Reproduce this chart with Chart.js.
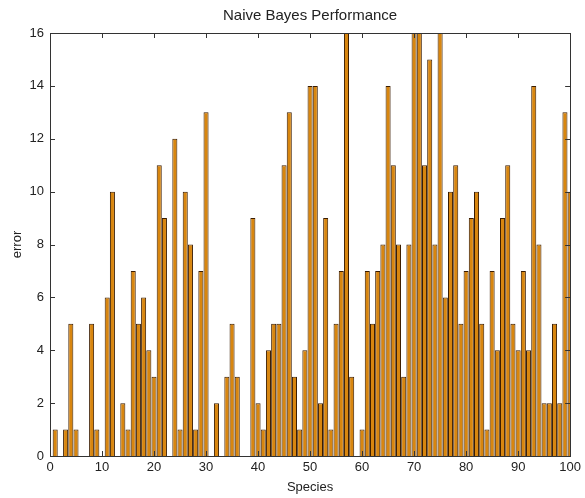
<!DOCTYPE html>
<html>
<head>
<meta charset="utf-8">
<script src="https://cdn.jsdelivr.net/npm/chart.js@4"></script>
<style>
  html, body { margin: 0; padding: 0; background: #fff; }
  #wrap { width: 585px; height: 498px; }
</style>
</head>
<body>
<div id="wrap"><canvas id="chart"></canvas></div>
<script>
// error per species, species 1..100
const errors = [
  1, 0, 1, 5, 1, 0, 0, 5, 1, 0,
  6, 10, 0, 2, 1, 7, 5, 6, 4, 3,
  11, 9, 0, 12, 1, 10, 8, 1, 7, 13,
  0, 2, 0, 3, 5, 3, 0, 0, 9, 2,
  1, 4, 5, 5, 11, 13, 3, 1, 4, 14,
  14, 2, 9, 1, 5, 7, 16, 3, 0, 1,
  7, 5, 7, 8, 14, 11, 8, 3, 8, 16,
  16, 11, 15, 8, 16, 6, 10, 11, 5, 7,
  9, 10, 5, 1, 7, 4, 9, 11, 5, 4,
  7, 4, 14, 8, 2, 2, 5, 2, 13, 10
];
const xTicks = [0, 10, 20, 30, 40, 50, 60, 70, 80, 90, 100];
const yTicks = [0, 2, 4, 6, 8, 10, 12, 14, 16];

const chartTitle = 'Naive Bayes Performance';
const xLabel = 'Species';
const yLabel = 'error';

const fontFamily = '"Liberation Sans", Arial, sans-serif';
const textColor = '#222';

// matlab style box, inward ticks and title over the plot area
const boxPlugin = {
  id: 'box',
  afterDatasetsDraw(chart) {
    const { ctx, chartArea: a, scales } = chart;
    ctx.save();
    ctx.strokeStyle = '#333';
    ctx.lineWidth = 1;
    ctx.beginPath();
    xTicks.forEach(t => {
      const px = Math.round(scales.x.getPixelForValue(t)) + 0.5;
      ctx.moveTo(px, a.bottom); ctx.lineTo(px, a.bottom - 5);
      ctx.moveTo(px, a.top); ctx.lineTo(px, a.top + 5);
    });
    yTicks.forEach(t => {
      const py = Math.round(scales.y.getPixelForValue(t)) + 0.5;
      ctx.moveTo(a.left, py); ctx.lineTo(a.left + 5, py);
      ctx.moveTo(a.right, py); ctx.lineTo(a.right - 5, py);
    });
    ctx.stroke();
    ctx.strokeRect(Math.round(a.left) + 0.5, Math.round(a.top) + 0.5,
      Math.round(a.right - a.left), Math.round(a.bottom - a.top));

    ctx.fillStyle = textColor;
    ctx.font = '15px ' + fontFamily;
    ctx.textAlign = 'center';
    ctx.textBaseline = 'middle';
    ctx.fillText(chartTitle, (a.left + a.right) / 2, 16);
    ctx.restore();
  }
};

new Chart(document.getElementById('chart'), {
  type: 'bar',
  data: {
    datasets: [{
      label: 'error',
      data: errors.map((v, i) => ({ x: i + 1, y: v })),
      backgroundColor: '#d8860f',
      borderColor: '#3a1c00',
      borderWidth: 1,
      barPercentage: 1,
      categoryPercentage: 0.97
    }]
  },
  options: {
    responsive: true,
    maintainAspectRatio: false,
    animation: false,
    layout: { padding: { left: 0, right: 13, top: 33, bottom: 0 } },
    plugins: {
      legend: { display: false },
      tooltip: { enabled: false }
    },
    scales: {
      x: {
        type: 'linear',
        min: 0,
        max: 100,
        offset: false,
        afterFit: s => { s.height = 42; },
        afterBuildTicks: s => { s.ticks = xTicks.map(v => ({ value: v })); },
        grid: { display: false, drawTicks: false },
        border: { display: false },
        ticks: { color: textColor, padding: 4, maxRotation: 0, font: { family: fontFamily, size: 13 } },
        title: { display: true, text: xLabel, color: textColor, padding: { top: 0, bottom: 3 }, font: { family: fontFamily, size: 13 } }
      },
      y: {
        min: 0,
        max: 16,
        afterFit: s => { s.width = 50; },
        afterBuildTicks: s => { s.ticks = yTicks.map(v => ({ value: v })); },
        grid: { display: false, drawTicks: false },
        border: { display: false },
        ticks: { color: textColor, padding: 6, font: { family: fontFamily, size: 13 } },
        title: { display: true, text: yLabel, color: textColor, padding: { top: 10, bottom: 0 }, font: { family: fontFamily, size: 13 } }
      }
    }
  },
  plugins: [boxPlugin]
});
</script>
</body>
</html>
